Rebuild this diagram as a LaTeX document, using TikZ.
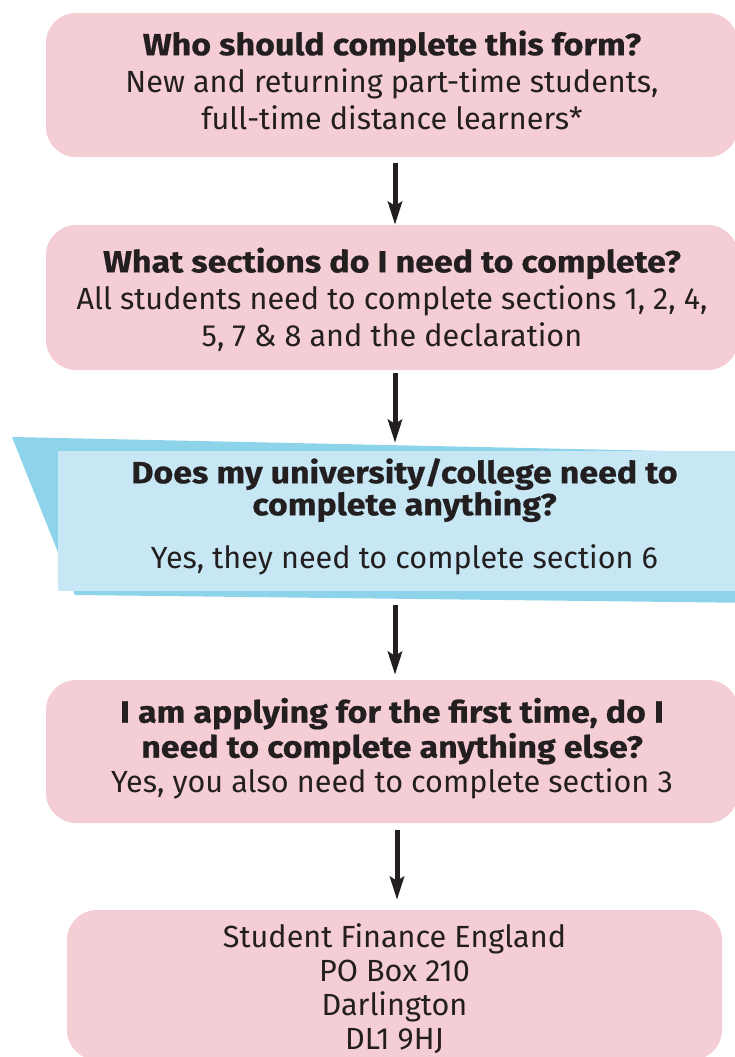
\documentclass[tikz,border=0pt]{standalone}
\usepackage{fontspec}
\setmainfont{Fira Sans}[BoldFeatures={FakeStretch=1.11,FakeBold=0.6}]
\usetikzlibrary{arrows.meta}
\definecolor{pinkbox}{HTML}{F5CDD5}
\definecolor{bluefront}{HTML}{C6E7F3}
\definecolor{blueback}{HTML}{8DD4EA}
\definecolor{arrowc}{HTML}{231F20}
\tikzset{
  pinkstep/.style={fill=pinkbox, rounded corners=30pt, inner sep=0pt},
  bluestep/.style={fill=bluefront, inner sep=0pt},
  txt/.style={inner sep=0pt, align=center, text=arrowc, font=\fontsize{30.6}{37}\selectfont},
  arr/.style={line width=5pt, draw=arrowc, -{Stealth[length=23pt,width=14pt,inset=4pt]}}
}
\begin{document}
\begin{tikzpicture}[x=1pt,y=-1pt]
\useasboundingbox (0,0) rectangle (735,1057);
\clip (0,0) rectangle (735,1057);

\node[pinkstep, minimum width=692pt, minimum height=144pt] (box1) at (392,85) {};
\node[txt] (t1) at ([yshift=5pt]box1.center)
  {\textbf{Who should complete this form?}\\
   New and returning part-time students,\\
   full-time distance learners*};

\node[pinkstep, minimum width=692pt, minimum height=145pt] (box2) at (392,297.5) {};
\node[txt] (t2) at ([yshift=-2pt]box2.center)
  {\textbf{What sections do I need to complete?}\\
   All students need to complete sections 1, 2, 4,\\
   5, 7 \& 8 and the declaration};

\fill[blueback] (12,437) -- (760,453) -- (760,603) -- (75,595) -- cycle;
\node[bluestep, minimum width=693pt, minimum height=140pt] (blue) at (404.5,521) {};
\node[txt, font=\fontsize{30.6}{32}\selectfont] (t3) at ([yshift=4.5pt]blue.center)
  {\textbf{Does my university/college need to}\\
   \textbf{complete anything?}\\[21pt]
   Yes, they need to complete section 6};

\node[pinkstep, minimum width=692pt, minimum height=143pt] (box4) at (392,751.5) {};
\node[txt, font=\fontsize{30.6}{35}\selectfont] (t4) at ([yshift=3pt]box4.center)
  {\textbf{I am applying for the first time, do I}\\
   \textbf{need to complete anything else?}\\
   Yes, you also need to complete section 3};

\node[pinkstep, minimum width=655pt, minimum height=150pt] (box5) at (394.5,985) {};
\node[txt, font=\fontsize{30.6}{34}\selectfont] (t5) at ([yshift=-3.5pt]box5.center)
  {Student Finance England\\
   PO Box 210\\
   Darlington\\
   DL1 9HJ};

\draw[arr] ([xshift=3pt,yshift=-6pt]box1.south) -- ([xshift=3pt]box2.north);
\draw[arr] ([xshift=3pt,yshift=-3pt]box2.south) -- ([xshift=-9.5pt,yshift=8pt]blue.north);
\draw[arr] ([xshift=-9.5pt,yshift=-14pt]blue.south) -- ([xshift=3pt,yshift=5pt]box4.north);
\draw[arr] ([xshift=5pt,yshift=-7pt]box4.south) -- ([xshift=2.5pt,yshift=10pt]box5.north);
\end{tikzpicture}
\end{document}
